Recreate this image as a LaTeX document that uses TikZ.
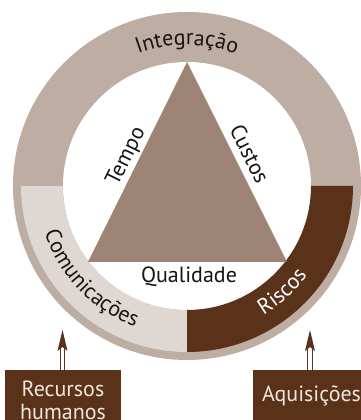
\documentclass[tikz,border=0pt]{standalone}
\usepackage{fontspec}
\setmainfont{PT Sans}
\usetikzlibrary{decorations.text,calc}
\definecolor{ringc}{RGB}{189,173,163}
\definecolor{tric}{RGB}{157,132,117}
\definecolor{lightc}{RGB}{222,215,210}
\definecolor{darkc}{RGB}{90,50,25}
\definecolor{boxtxt}{RGB}{238,230,220}
\definecolor{txt}{RGB}{25,20,18}
\newcommand\myfs{\fontsize{22}{23}\selectfont}
\tikzset{
  lbl/.style={font=\myfs, text=txt, inner sep=0pt},
  boxnode/.style={fill=darkc, text=boxtxt, font=\myfs, align=center, inner sep=0pt, anchor=north},
  dblshaft/.style={draw=darkc, line width=1.2pt, double=white, double distance=3.4pt},
  arctext/.style={decorate, decoration={text along path, text align=center, #1}}
}
\begin{document}
\begin{tikzpicture}[x=1pt,y=1pt]
\useasboundingbox (0,0) rectangle (361,420);
\coordinate (C) at (187,234);
% rings
\fill[ringc] (C) circle[radius=174];
\fill[white] (C) circle[radius=124];
\fill[lightc] ($(C)+(180:166)$) arc[start angle=180,end angle=270,radius=166]
  -- ($(C)+(270:124)$) arc[start angle=270,end angle=180,radius=124] -- cycle;
\fill[darkc] ($(C)+(270:166)$) arc[start angle=270,end angle=360,radius=166]
  -- ($(C)+(0:124)$) arc[start angle=360,end angle=270,radius=124] -- cycle;
% triangle
\coordinate (A) at ($(C)+(90:124)$);
\coordinate (B) at (88,158);
\coordinate (D) at (287,158);
\fill[tric] (A) -- (B) -- (D) -- cycle;
% ring texts
\path[arctext={text={|\myfs\color{txt}|Integração}}] ($(C)+(125:141)$) arc[start angle=125,end angle=55,radius=141];
\path[arctext={text={|\myfs\color{txt}|Comunicações}}] ($(C)+(190:150)$) arc[start angle=190,end angle=258,radius=150];
\path[arctext={text={|\myfs\color{white}|Riscos}}] ($(C)+(290:150)$) arc[start angle=290,end angle=334,radius=150];
% triangle texts
\node[lbl, rotate=63.66, anchor=base] (tempo) at ($(B)!0.5!(A)+(-6,3)$) {Tempo};
\node[lbl, rotate=-63.43, anchor=base] (custos) at ($(D)!0.5!(A)+(6,4.5)$) {Custos};
\node[lbl, anchor=base] (qual) at (189,137) {Qualidade};
% boxes
\node[boxnode, minimum width=116pt, minimum height=60pt] (rh) at (63,50) {Recursos\\humanos};
\node[boxnode, minimum width=118pt, minimum height=52pt] (aq) at (311.5,50) {Aquisições};
% arrows
\coordinate (t1) at (62.5,90);
\coordinate (t2) at (310,90);
\draw[dblshaft] (t1 |- rh.north) -- ($(t1)+(0,-18)$);
\fill[darkc] (t1) -- ++(-5,-21) -- ++(5,4) -- ++(5,-4) -- cycle;
\draw[dblshaft] (t2 |- aq.north) -- ($(t2)+(0,-18)$);
\fill[darkc] (t2) -- ++(-5,-21) -- ++(5,4) -- ++(5,-4) -- cycle;
\end{tikzpicture}
\end{document}
